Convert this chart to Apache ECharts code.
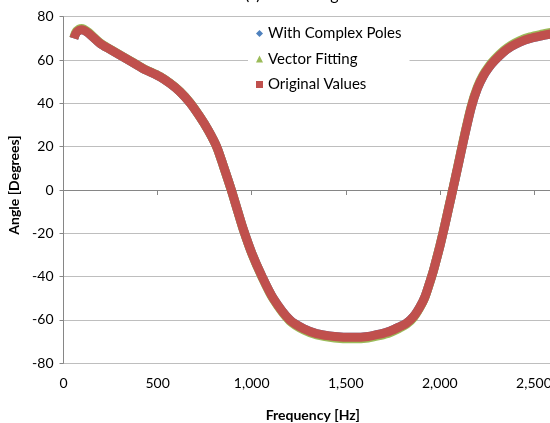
<!DOCTYPE html>
<html>
<head>
<meta charset="utf-8">
<script src="https://cdn.jsdelivr.net/npm/echarts@6/dist/echarts.min.js"></script>
<style>
  html, body { margin: 0; padding: 0; background: #fff; }
  #chart { width: 550px; height: 423px; }
</style>
</head>
<body>
<div id="chart"></div>
<script>
// frequencies [Hz]
const freqs = [55, 70, 97, 130, 194, 250, 300, 360, 424, 513, 566, 619, 672, 725, 770, 814, 852, 890, 925, 955, 1000, 1053, 1115, 1203, 1280, 1345, 1440, 1539, 1620, 1681, 1734, 1790, 1823, 1860, 1894, 1920, 1947, 1965, 1982, 2000, 2018, 2035, 2053, 2071, 2090, 2110, 2130, 2168, 2200, 2230, 2260, 2292, 2340, 2380, 2425, 2480, 2540, 2600];

// angle [deg]
const originalValues = [70.0, 72.8, 74.0, 72.6, 67.7, 64.8, 62.3, 59.3, 56.0, 52.3, 49.2, 45.4, 40.3, 33.8, 27.5, 20.0, 10.5, 0.5, -9.5, -18.0, -29.0, -39.5, -50.0, -60.0, -64.2, -66.3, -67.6, -68.0, -67.6, -66.5, -65.2, -63.0, -61.5, -58.5, -54.0, -49.5, -42.5, -37.5, -32.0, -26.0, -19.5, -13.0, -6.0, 1.0, 8.5, 16.5, 24.5, 38.5, 47.0, 52.5, 56.5, 59.8, 63.8, 66.3, 68.3, 70.0, 71.2, 72.2];
const vectorFitting = [70.2, 73.4, 74.6, 73.0, 67.9, 64.9, 62.4, 59.4, 56.1, 52.4, 49.3, 45.5, 40.4, 33.8, 27.4, 19.9, 10.4, 0.4, -9.6, -18.2, -29.2, -39.8, -50.4, -60.5, -64.8, -66.9, -68.3, -68.7, -68.3, -67.2, -65.9, -63.6, -62.0, -58.9, -54.3, -49.7, -42.6, -37.5, -31.9, -25.8, -19.3, -12.8, -5.8, 1.2, 8.8, 16.9, 25.0, 39.1, 47.6, 53.1, 57.1, 60.4, 64.4, 66.9, 69.0, 70.7, 71.9, 72.9];
const complexPoles = [70.0, 72.8, 74.0, 72.6, 67.7, 64.8, 62.3, 59.3, 56.0, 52.3, 49.2, 45.4, 40.3, 33.8, 27.5, 20.0, 10.5, 0.5, -9.5, -18.0, -29.0, -39.5, -50.0, -60.0, -64.2, -66.3, -67.6, -68.0, -67.6, -66.5, -65.2, -63.0, -61.5, -58.5, -54.0, -49.5, -42.5, -37.5, -32.0, -26.0, -19.5, -13.0, -6.0, 1.0, 8.5, 16.5, 24.5, 38.5, 47.0, 52.5, 56.5, 59.8, 63.8, 66.3, 68.3, 70.0, 71.2, 72.2];

const seriesNames = ["With Complex Poles", "Vector Fitting", "Original Values"];
const seriesColors = ["#4F81BD", "#9BBB59", "#C0504D"];
const seriesIcons = ["diamond", "triangle", "rect"];

const font = "Lato, 'Open Sans', sans-serif";

function pairs(values) {
  return freqs.map((f, i) => [f, values[i]]);
}

const chart = echarts.init(document.getElementById("chart"));

const makeSeries = (name, values, color) => ({
  name: name,
  type: "line",
  data: pairs(values),
  smooth: 0.3,
  showSymbol: false,
  symbol: "none",
  lineStyle: { color: color, width: 9 },
  itemStyle: { color: color },
  emphasis: { disabled: true },
  animation: false,
});

chart.setOption({
  animation: false,
  title: {
    text: "(c) Phase Angle",
    left: 240,
    top: -18,
    textStyle: { fontFamily: font, fontSize: 16, fontWeight: "normal", color: "#000" },
  },
  legend: {
    orient: "vertical",
    left: 248,
    top: 21,
    padding: [5, 8, 5, 8],
    itemGap: 10.5,
    itemWidth: 7,
    itemHeight: 7,
    backgroundColor: "#fff",
    selectedMode: false,
    textStyle: { fontFamily: font, fontSize: 15, lineHeight: 14, color: "#000" },
    data: seriesNames.map((n, i) => ({
      name: n,
      icon: seriesIcons[i],
      itemStyle: { color: seriesColors[i] },
    })),
  },
  grid: { left: 63.5, top: 16.7, bottom: 59.7, right: -78, containLabel: false, outerBoundsMode: "none" },
  xAxis: {
    type: "value",
    min: 0,
    max: 3000,
    interval: 500,
    name: "Frequency [Hz]",
    nameLocation: "middle",
    nameGap: 45,
    nameTextStyle: { fontFamily: font, fontSize: 14, fontWeight: "bold", color: "#000", padding: [0, 66, 0, 0] },
    axisLine: { lineStyle: { color: "#868686" } },
    axisTick: { show: true, length: 5, lineStyle: { color: "#868686" } },
    splitLine: { show: false },
    axisLabel: {
      margin: 13,
      fontFamily: font,
      fontSize: 14,
      color: "#000",
      formatter: (v) => v.toLocaleString("en-US"),
    },
  },
  yAxis: {
    type: "value",
    min: -80,
    max: 80,
    interval: 20,
    name: "Angle [Degrees]",
    nameLocation: "middle",
    nameGap: 39,
    nameTextStyle: { fontFamily: font, fontSize: 14, fontWeight: "bold", color: "#000", padding: [0, 0, 0, 10] },
    axisLine: { show: true, lineStyle: { color: "#868686" } },
    axisTick: { show: true, length: 4, lineStyle: { color: "#868686" } },
    splitLine: { lineStyle: { color: "#BEBEBE" } },
    axisLabel: { margin: 10, fontFamily: font, fontSize: 14, color: "#000" },
  },
  series: [
    makeSeries(seriesNames[0], complexPoles, seriesColors[0]),
    makeSeries(seriesNames[1], vectorFitting, seriesColors[1]),
    makeSeries(seriesNames[2], originalValues, seriesColors[2]),
  ],
});
</script>
</body>
</html>
